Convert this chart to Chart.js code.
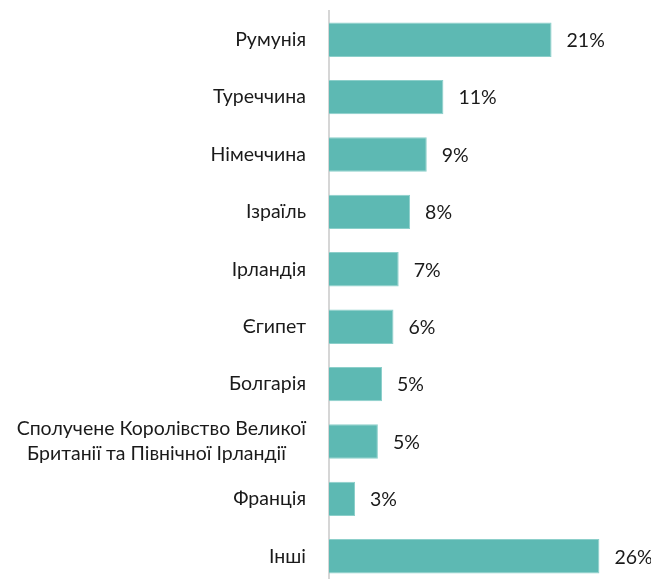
<!DOCTYPE html>
<html>
<head>
<meta charset="utf-8">
<script src="https://cdn.jsdelivr.net/npm/chart.js@4"></script>
<style>
  html, body { margin: 0; padding: 0; background: #fff; overflow: hidden; }
  #wrap { width: 651px; height: 586px; }
</style>
</head>
<body>
<div id="wrap"><canvas id="countryChart" width="651" height="586"></canvas></div>
<script>
const countries = [
    'Румунія',
    'Туреччина',
    'Німеччина',
    'Ізраїль',
    'Ірландія',
    'Єгипет',
    'Болгарія',
    ['Сполучене Королівство Великої', 'Британії та Північної Ірландії    '],
    'Франція',
    'Інші'
];
const shares = [21.4, 11.0, 9.4, 7.8, 6.7, 6.2, 5.1, 4.7, 2.5, 26.0];
const shareLabels = ['21%', '11%', '9%', '8%', '7%', '6%', '5%', '5%', '3%', '26%'];

const fontFamily = 'Lato, "Open Sans", sans-serif';

// value labels to the right of each bar
const valueLabelPlugin = {
    id: 'valueLabels',
    afterDatasetsDraw(chart) {
        const ctx = chart.ctx;
        const meta = chart.getDatasetMeta(0);
        ctx.save();
        ctx.font = '19.5px ' + fontFamily;
        ctx.fillStyle = '#1a1a1a';
        ctx.textAlign = 'left';
        ctx.textBaseline = 'middle';
        meta.data.forEach((bar, i) => {
            ctx.fillText(shareLabels[i], bar.x + 15, bar.y + 1);
        });
        ctx.restore();
    }
};

const ctx = document.getElementById('countryChart').getContext('2d');
const countryChart = new Chart(ctx, {
    type: 'bar',
    data: {
        labels: countries,
        datasets: [{
            data: shares,
            backgroundColor: '#5DB9B3',
            borderColor: '#8CCFCA',
            borderWidth: 1,
            barPercentage: 0.6,
            categoryPercentage: 1
        }]
    },
    options: {
        indexAxis: 'y',
        responsive: false,
        animation: false,
        layout: { padding: { top: 11, right: 10, bottom: 1, left: 0 } },
        plugins: {
            legend: { display: false },
            tooltip: { enabled: false }
        },
        scales: {
            x: {
                display: false,
                min: 0,
                max: 30
            },
            y: {
                afterFit(scale) {
                    scale.width = 329;
                    scale.paddingTop = 0;
                    scale.paddingBottom = 0;
                },
                grid: { display: false, drawTicks: false },
                border: { display: true, color: '#d6d6d6', width: 2 },
                ticks: {
                    color: '#1a1a1a',
                    padding: 23,
                    font: { family: fontFamily, size: 19.5, lineHeight: 1.28 }
                }
            }
        }
    },
    plugins: [valueLabelPlugin]
});
</script>
</body>
</html>
